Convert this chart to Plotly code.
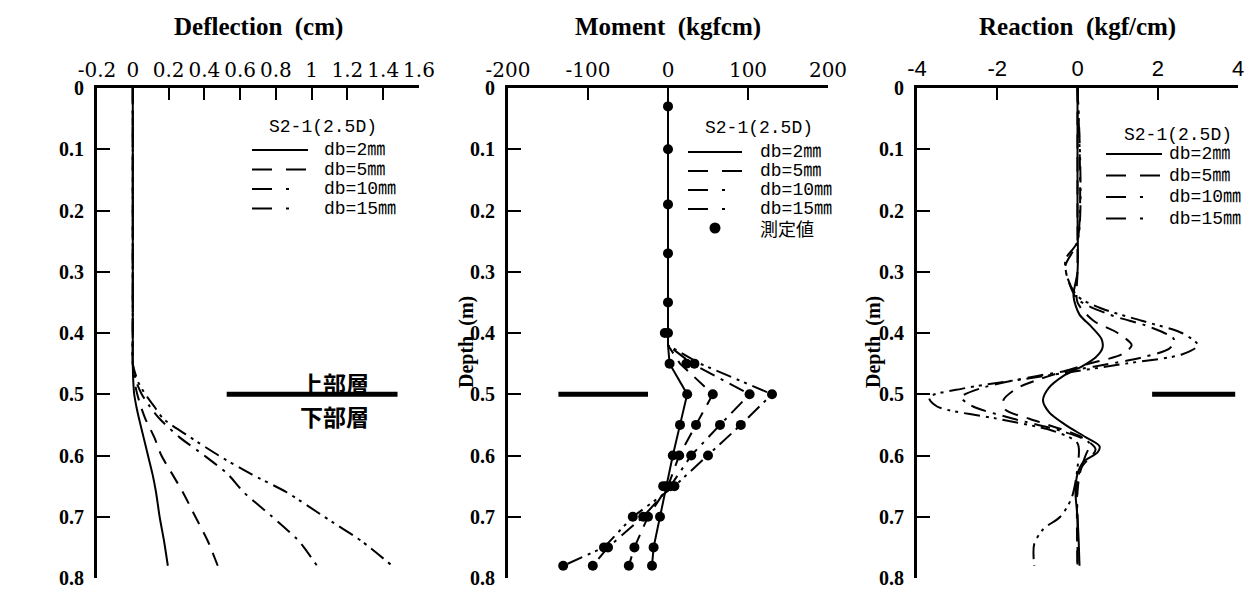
import plotly.graph_objects as go

# page is 1258x590; the html body adds an 8px margin, so the figure is 8px smaller
PAGE_OFF = 8
W, H = 1258 - PAGE_OFF, 590 - PAGE_OFF

# ---------------- data ----------------
# Deflection (cm) vs depth (m)
defl_depth = [0, 0.1, 0.2, 0.3, 0.4, 0.45, 0.48, 0.5, 0.52, 0.54, 0.57, 0.6, 0.63, 0.66, 0.7, 0.74, 0.78]
defl_db2 = [0, 0, 0, 0, 0, 0, 0.003, 0.008, 0.02, 0.035, 0.06, 0.085, 0.11, 0.13, 0.15, 0.175, 0.196]
defl_db5 = [0, 0, 0, 0, 0, 0, 0.01, 0.025, 0.045, 0.07, 0.12, 0.16, 0.22, 0.28, 0.35, 0.42, 0.475]
defl_db10 = [0, 0, 0, 0, 0, 0, 0.02, 0.05, 0.095, 0.15, 0.26, 0.4, 0.53, 0.62, 0.78, 0.93, 1.03]
defl_db15 = [0, 0, 0, 0, 0, 0, 0.03, 0.07, 0.12, 0.17, 0.32, 0.48, 0.66, 0.86, 1.07, 1.28, 1.45]

# Moment (kgfcm) vs depth (m)
mom_depth = [0, 0.42, 0.45, 0.5, 0.55, 0.6, 0.65, 0.7, 0.75, 0.78]
mom_db2 = [0, 0, 2, 24, 15, 6, -2, -10, -18, -20]
mom_db5 = [0, 0, 15, 56, 35, 14, 0, -25, -42, -49]
mom_db10 = [0, 0, 30, 102, 65, 29, 3, -31, -75, -94]
mom_db15 = [0, 0, 40, 130, 91, 50, 8, -44, -80, -131]
meas_depth = [0.03, 0.1, 0.19, 0.27, 0.35, 0.40, 0.40, 0.45, 0.45, 0.45,
              0.5, 0.5, 0.5, 0.5, 0.55, 0.55, 0.55, 0.55, 0.6, 0.6, 0.6, 0.6,
              0.65, 0.65, 0.65, 0.65, 0.7, 0.7, 0.7, 0.7, 0.75, 0.75, 0.75, 0.75,
              0.78, 0.78, 0.78, 0.78]
meas_moment = [0, 0, 0, 0, 0, -4, 0, 2, 23, 33,
               24, 56, 102, 130, 15, 35, 65, 91, 6, 14, 29, 50,
               -6, -2, 3, 8, -44, -31, -25, -10, -80, -75, -42, -18,
               -131, -94, -49, -20]

# Reaction (kgf/cm) vs depth (m)
rea_d2 = [0, 0.2, 0.3, 0.34, 0.37, 0.39, 0.41, 0.425, 0.44, 0.455, 0.47, 0.49, 0.51, 0.53, 0.55,
          0.57, 0.585, 0.595, 0.61, 0.63, 0.66, 0.7, 0.74, 0.78]
rea_v2 = [0, 0, 0, -0.1, 0.05, 0.35, 0.6, 0.62, 0.45, 0.1, -0.35, -0.72, -0.86, -0.7, -0.3,
          0.2, 0.55, 0.5, 0.15, 0, -0.05, 0, 0.03, 0.05]
rea_d5 = [0, 0.3, 0.35, 0.38, 0.40, 0.42, 0.435, 0.45, 0.47, 0.49, 0.51, 0.525, 0.54, 0.555,
          0.57, 0.59, 0.62, 0.66, 0.78]
rea_v5 = [0, 0, 0, 0.4, 1.0, 1.35, 1.1, 0.3, -0.7, -1.5, -1.85, -1.8, -1.2, -0.5,
          0.1, 0.45, 0.1, 0, 0]
rea_d10 = [0, 0.25, 0.29, 0.32, 0.345, 0.37, 0.39, 0.41, 0.425, 0.44, 0.455, 0.47, 0.49, 0.505,
           0.52, 0.54, 0.56, 0.58, 0.6, 0.64, 0.7, 0.78]
rea_v10 = [0, 0, -0.3, -0.2, 0, 0.8, 1.8, 2.4, 2.3, 1.6, 0.4, -1.0, -2.4, -2.9,
           -2.6, -1.6, -0.4, 0.3, 0.2, 0, 0, 0]
rea_d15 = [0, 0.25, 0.28, 0.31, 0.34, 0.36, 0.38, 0.40, 0.42, 0.435, 0.45, 0.47, 0.49, 0.505,
           0.52, 0.54, 0.56, 0.58, 0.62, 0.67, 0.7, 0.72, 0.745, 0.78]
rea_v15 = [0, 0, -0.3, -0.25, 0, 0.6, 1.6, 2.6, 3.0, 2.6, 1.2, -0.8, -2.8, -3.7,
           -3.5, -2.0, -0.6, 0, 0, -0.15, -0.43, -0.85, -1.08, -1.08]

# axes ticks
depth_ticks = [0, 0.1, 0.2, 0.3, 0.4, 0.5, 0.6, 0.7, 0.8]
depth_labels = ["0", "0.1", "0.2", "0.3", "0.4", "0.5", "0.6", "0.7", "0.8"]
defl_ticks = [-0.2, 0, 0.2, 0.4, 0.6, 0.8, 1.0, 1.2, 1.4, 1.6]
defl_labels = ["-0.2", "0", "0.2", "0.4", "0.6", "0.8", "1", "1.2", "1.4", "1.6"]
mom_ticks = [-200, -100, 0, 100, 200]
mom_labels = ["-200", "-100", "0", "100", "200"]
rea_ticks = [-4, -2, 0, 2, 4]
rea_labels = ["-4", "-2", "0", "2", "4"]

series_names = ["db=2㎜", "db=5㎜", "db=10㎜", "db=15㎜"]
meas_name = "測定値"
legend_title = "S2-1(2.5D)"
panel_titles = ["Deflection  (cm)", "Moment  (kgfcm)", "Reaction  (kgf/cm)"]
depth_title = "Depth  (m)"
layer_upper, layer_lower = "上部層", "下部層"
layer_depth = 0.5

# ---------------- style ----------------
dashes = ["solid", "14px,9px", "16px,7px,3px,7px", "16px,6px,3px,5px,3px,6px"]
legend_dashes = ["solid", "20px,14px", "20px,14px,3px,40px", "20px,14px,3px,40px"]
SERIF = "Liberation Serif, Times New Roman, serif"
WIDE_SERIF = "DejaVu Serif, serif"
SANS = "Liberation Sans, Arial, sans-serif"
LEG = "Liberation Mono, Noto Sans CJK JP, monospace"
CJK = "Noto Sans CJK JP"

fig = go.Figure()


def px_x(p):
    return (p - PAGE_OFF) / W


def px_y(p):
    return 1 - (p - PAGE_OFF) / H


ydom = [px_y(578), px_y(88)]
xdoms = [[px_x(97), px_x(419)], [px_x(508), px_x(828)], [px_x(917), px_x(1238)]]

defl_series = [defl_db2, defl_db5, defl_db10, defl_db15]
mom_series = [mom_db2, mom_db5, mom_db10, mom_db15]
rea_series = [(rea_d2, rea_v2), (rea_d5, rea_v5), (rea_d10, rea_v10), (rea_d15, rea_v15)]

for i, name in enumerate(series_names):
    fig.add_trace(go.Scatter(x=defl_series[i], y=defl_depth, mode="lines", name=name,
                             line=dict(color="black", width=2, dash=dashes[i], shape="spline", smoothing=0.6),
                             xaxis="x", yaxis="y", showlegend=False))
for i, name in enumerate(series_names):
    fig.add_trace(go.Scatter(x=mom_series[i], y=mom_depth, mode="lines", name=name,
                             line=dict(color="black", width=2, dash=dashes[i]),
                             xaxis="x2", yaxis="y2", showlegend=False))
fig.add_trace(go.Scatter(x=meas_moment, y=meas_depth, mode="markers", name=meas_name,
                         marker=dict(color="black", size=10),
                         xaxis="x2", yaxis="y2", showlegend=False))
for i, name in enumerate(series_names):
    d, v = rea_series[i]
    fig.add_trace(go.Scatter(x=v, y=d, mode="lines", name=name,
                             line=dict(color="black", width=2, dash=dashes[i], shape="spline", smoothing=0.8),
                             xaxis="x3", yaxis="y3", showlegend=False))


def xaxis(dom, rng, tv, tt, anchor, family=WIDE_SERIF, size=20):
    return dict(domain=dom, range=rng, side="top", anchor=anchor, tickvals=tv, ticktext=tt,
                ticks="inside", ticklen=12, tickwidth=2, tickcolor="black", automargin=False,
                showline=True, linewidth=3, linecolor="black", showgrid=False, zeroline=False,
                ticklabeloverflow="allow",
                tickfont=dict(family=family, size=size, color="black"), fixedrange=True)


def yaxis(anchor):
    return dict(domain=ydom, range=[0.8, 0], anchor=anchor, tickvals=depth_ticks, ticktext=depth_labels,
                ticks="inside", ticklen=13, tickwidth=2, tickcolor="black", automargin=False,
                showline=True, linewidth=3, linecolor="black", showgrid=False, zeroline=False,
                ticklabeloverflow="allow",
                tickfont=dict(family=SERIF, size=20, color="black", weight="bold"),
                ticklabelstandoff=6, fixedrange=True)


fig.update_layout(
    width=W, height=H, margin=dict(l=0, r=0, t=0, b=0, autoexpand=False),
    paper_bgcolor="white", plot_bgcolor="white", showlegend=False,
    xaxis=xaxis(xdoms[0], [-0.2, 1.6], defl_ticks, defl_labels, "y"),
    yaxis=yaxis("x"),
    xaxis2=xaxis(xdoms[1], [-200, 200], mom_ticks, mom_labels, "y2"),
    yaxis2=yaxis("x2"),
    xaxis3=xaxis(xdoms[2], [-4, 4], rea_ticks, rea_labels, "y3", family=SANS, size=22),
    yaxis3=yaxis("x3"),
)

# panel titles
centers = [258, 668, 1077]
for c, t in zip(centers, panel_titles):
    fig.add_annotation(text=f"<b>{t}</b>", x=px_x(c), y=px_y(27), xref="paper", yref="paper",
                       showarrow=False, xanchor="center", yanchor="middle",
                       font=dict(family=SERIF, size=25, color="black"))
# depth labels
for xc in [466, 873]:
    fig.add_annotation(text=f"<b>{depth_title}</b>", x=px_x(xc), y=px_y(342), xref="paper", yref="paper",
                       showarrow=False, textangle=-90, xanchor="center", yanchor="middle",
                       font=dict(family=SERIF, size=20, color="black"))

# layer boundary bars
bars = [("x", "y", 0.525, 1.48), ("x2", "y2", -137, -25), ("x3", "y3", 1.86, 3.93)]
for xr, yr, x0, x1 in bars:
    fig.add_shape(type="line", xref=xr, yref=yr, x0=x0, x1=x1, y0=layer_depth, y1=layer_depth,
                  line=dict(color="black", width=5))
fig.add_annotation(text=layer_upper, x=1.13, y=0.481, xref="x", yref="y", showarrow=False,
                   xanchor="center", yanchor="middle",
                   font=dict(family=CJK, size=23, color="black", weight="bold"))
fig.add_annotation(text=layer_lower, x=1.13, y=0.536, xref="x", yref="y", showarrow=False,
                   xanchor="center", yanchor="middle",
                   font=dict(family=CJK, size=23, color="black", weight="bold"))

# legends (key boxes placed in page pixels)
# (title centre x, title y, sample x0, sample x1, text x, first row y, row step, has measured)
legend_boxes = [
    (323, 127, 252, 308, 322, 150, 19.5, False),
    (759, 128, 688, 742, 758, 152, 19, True),
    (1178, 135, 1106, 1162, 1167, 154, 21.5, False),
]
for tcx, ty, sx0, sx1, tx, ry, step, with_meas in legend_boxes:
    fig.add_annotation(text=legend_title, x=px_x(tcx), y=px_y(ty), xref="paper", yref="paper",
                       showarrow=False, xanchor="center", yanchor="middle",
                       font=dict(family=LEG, size=18, color="black"))
    for k, name in enumerate(series_names):
        yy = px_y(ry + k * step)
        fig.add_shape(type="line", xref="paper", yref="paper", x0=px_x(sx0), x1=px_x(sx1), y0=yy, y1=yy,
                      line=dict(color="black", width=2, dash=legend_dashes[k]))
        fig.add_annotation(text=name, x=px_x(tx), y=yy, xref="paper", yref="paper", showarrow=False,
                           xanchor="left", yanchor="middle", font=dict(family=LEG, size=18, color="black"))
    if with_meas:
        yy = px_y(ry + 4 * step)
        cx = (sx0 + sx1) / 2
        fig.add_shape(type="circle", xref="paper", yref="paper", fillcolor="black", line=dict(color="black"),
                      x0=px_x(cx - 4.5), x1=px_x(cx + 4.5), y0=yy - 4.5 / H, y1=yy + 4.5 / H)
        fig.add_annotation(text=meas_name, x=px_x(tx), y=yy, xref="paper", yref="paper", showarrow=False,
                           xanchor="left", yanchor="middle", font=dict(family=CJK, size=18, color="black"))

fig.write_html("out.html")
